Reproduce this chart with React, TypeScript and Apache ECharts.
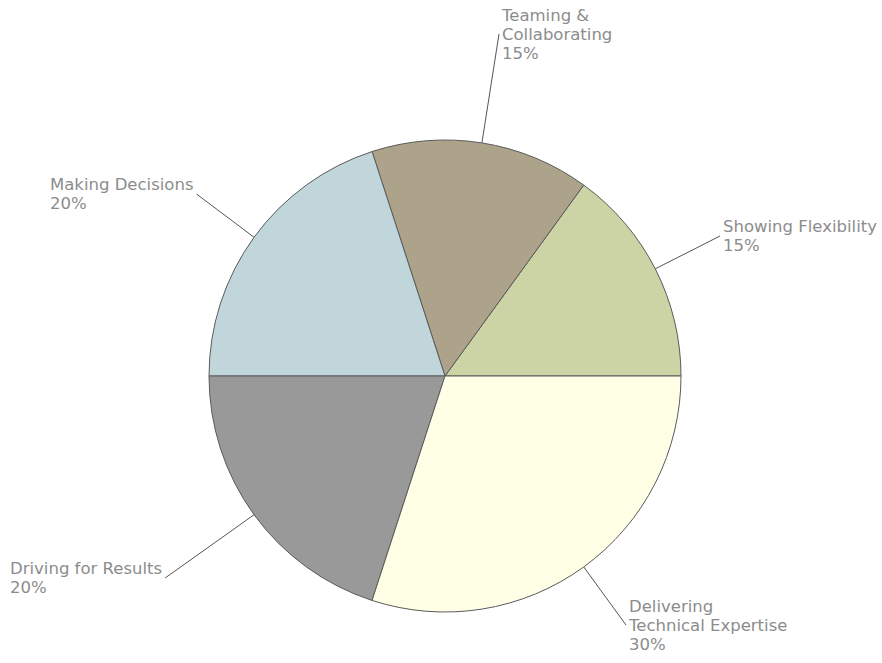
import React, { useEffect, useRef } from "react";
import * as echarts from "echarts";

const categories = [
  "Showing Flexibility",
  "Teaming &\nCollaborating",
  "Making Decisions",
  "Driving for Results",
  "Delivering\nTechnical Expertise",
];
const values = [15, 15, 20, 20, 30];
const colors = ["#CCD3A4", "#ADA38A", "#C1D6DB", "#999999", "#FFFFE6"];

// label anchor positions (layout config)
const labelSpots = [
  { x: 723, y: 236, side: "right" },
  { x: 502, y: 34, side: "right" },
  { x: 50, y: 194, side: "left" },
  { x: 10, y: 578, side: "left" },
  { x: 629, y: 625, side: "right" },
];

const CX = 445;
const CY = 376;
const R = 236;
const START = 0;

export default function App() {
  const ref = useRef<HTMLDivElement>(null);
  useEffect(() => {
    if (!ref.current) return;
    const chart = echarts.init(ref.current, null, { renderer: "svg" });
    const total = values.reduce((a, b) => a + b, 0);
    const mids: number[] = [];
    let cum = 0;
    values.forEach((v) => {
      mids.push(((START + ((cum + v / 2) / total) * 360) * Math.PI) / 180);
      cum += v;
    });
    chart.setOption({
      animation: false,
      backgroundColor: "#ffffff",
      series: [
        {
          type: "pie",
          center: [CX, CY],
          radius: R,
          startAngle: START,
          clockwise: false,
          avoidLabelOverlap: false,
          emphasis: { disabled: true },
          itemStyle: { borderColor: "#5a5a5a", borderWidth: 1 },
          label: {
            show: true,
            position: "outside",
            fontFamily: "DejaVu Sans, Verdana, sans-serif",
            fontSize: 16.5,
            lineHeight: 19,
            color: "#8c8c8c",
            align: "left",
            formatter: (p: any) => `${p.name}\n${Math.round(p.percent)}%`,
          },
          labelLine: {
            show: true,
            lineStyle: { color: "#555555", width: 1 },
          },
          labelLayout: (params: any) => {
            const i = params.dataIndex;
            const s = labelSpots[i];
            const w = params.labelRect.width;
            const a = mids[i];
            const sx = CX + R * Math.cos(a);
            const sy = CY - R * Math.sin(a);
            const ex = s.side === "right" ? s.x - 3 : s.x + w + 3;
            return {
              x: s.x,
              y: s.y,
              align: "left",
              verticalAlign: "middle",
              labelLinePoints: [
                [sx, sy],
                [sx, sy],
                [ex, s.y],
              ],
            };
          },
          data: categories.map((name, i) => ({
            name,
            value: values[i],
            itemStyle: { color: colors[i] },
          })),
        },
      ],
    });
    return () => chart.dispose();
  }, []);
  return (
    <div
      ref={ref}
      style={{ position: "absolute", left: 0, top: 0, width: 882, height: 663 }}
    />
  );
}
